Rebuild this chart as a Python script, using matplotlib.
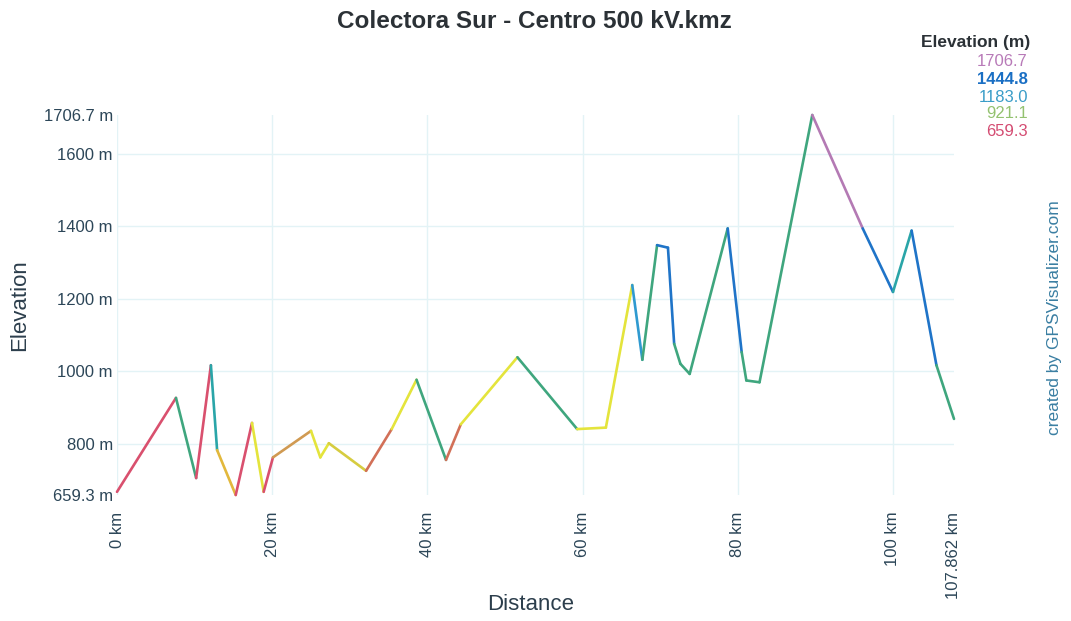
import matplotlib
matplotlib.use("Agg")
import matplotlib.pyplot as plt
from matplotlib.collections import LineCollection
import numpy as np

plt.rcParams['font.family'] = ['Liberation Sans', 'DejaVu Sans']

title = "Colectora Sur - Centro 500 kV.kmz"

dist_km = [0, 7.6, 10.2, 12.1, 12.9, 15.3, 17.4, 18.9, 20.1, 25.0, 26.2, 27.3,
           32.1, 35.4, 38.6, 42.4, 44.3, 51.6, 59.3, 63.0, 66.4, 67.7, 69.6,
           71.0, 71.8, 72.6, 73.8, 78.7, 80.5, 81.1, 82.8, 89.6, 96.1, 100.0,
           102.4, 105.6, 107.862]
elev_m = [668, 927, 706, 1017, 783, 659.3, 858, 668, 763, 836, 763, 802,
          726, 841, 977, 756, 854, 1039, 841, 845, 1238, 1032, 1348,
          1341, 1076, 1021, 993, 1394, 1053, 975, 970, 1706.7, 1394, 1219,
          1388, 1017, 869]

# segment colour classes (one per segment between consecutive points)
seg_class = ['red', 'green', 'red', 'teal', 'amber', 'red', 'yellow', 'red',
             'orange', 'yellow', 'yellow', 'olive', 'redorange', 'yellow',
             'green', 'redorange', 'yellow', 'green', 'yellow', 'yellow',
             'tealblue', 'green', 'blue', 'blue', 'green', 'green', 'green',
             'blue', 'green', 'green', 'green', 'purple', 'blue', 'teal',
             'blue', 'green']

legend_values = ["1706.7", "1444.8", "1183.0", "921.1", "659.3"]
legend_colors = ['#b87ab8', '#1a6fc4', '#3a9dc8', '#94c270', '#d44c72']

xticks = [0, 20, 40, 60, 80, 100, 107.862]
xtick_labels = ["0 km", "20 km", "40 km", "60 km", "80 km", "100 km", "107.862 km"]
yticks = [659.3, 800, 1000, 1200, 1400, 1600, 1706.7]
ytick_labels = ["659.3 m", "800 m", "1000 m", "1200 m", "1400 m", "1600 m", "1706.7 m"]

palette = {
    'red': '#d9506e', 'green': '#3fa67e', 'teal': '#2aa5a8', 'amber': '#e2b83c',
    'yellow': '#e4e43c', 'orange': '#d09a52', 'olive': '#d6cc40',
    'redorange': '#d27058', 'tealblue': '#2f9ad0', 'blue': '#1f74c8',
    'purple': '#b47ab4',
}

fig = plt.figure(figsize=(10.71, 6.21), dpi=100)
ax = fig.add_axes([117/1071, 1-495/621, (954-117)/1071, (495-115)/621])

pts = np.column_stack([dist_km, elev_m])
segs = np.stack([pts[:-1], pts[1:]], axis=1)
lc = LineCollection(segs, colors=[palette[c] for c in seg_class], linewidths=1.9,
                    capstyle='round', joinstyle='round', clip_on=False, zorder=3)
ax.add_collection(lc)

ax.set_xlim(0, 107.862)
ax.set_ylim(659.3, 1706.7)

grid_c = '#e3f3f6'
for x in [0, 20, 40, 60, 80, 100]:
    ax.axvline(x, color=grid_c, lw=1.0, zorder=0)
for y in [800, 1000, 1200, 1400, 1600]:
    ax.axhline(y, color=grid_c, lw=1.0, zorder=0)

for s in ax.spines.values():
    s.set_visible(False)

tick_c = '#2c4658'
ax.set_xticks(xticks)
ax.set_xticklabels(xtick_labels, rotation=90, fontsize=12, color=tick_c)
ax.set_yticks(yticks)
ax.set_yticklabels(ytick_labels, fontsize=12, color=tick_c)
ax.tick_params(length=0, pad=3)
ax.tick_params(axis='x', pad=12)

fig.text(531/1071, 1-605/621, "Distance", ha='center', va='center',
         fontsize=16, color='#2c3e4c')
fig.text(20/1071, 1-305/621, "Elevation", ha='center', va='center',
         rotation=90, fontsize=16, color='#2c3e4c')

fig.text(534/1071, 1-22/621, title, ha='center', va='center', fontsize=17.5,
         fontweight='bold', color='#2b3136')

fig.text(1030/1071, 1-42/621, "Elevation (m)", ha='right', va='center',
         fontsize=12.5, fontweight='bold', color='#2b3136')
ys = [62, 80, 97, 114, 131]
for v, c, y in zip(legend_values, legend_colors, ys):
    fig.text(1028/1071, 1-y/621, v, ha='right', va='center', fontsize=12,
             color=c, fontweight='bold' if v == "1444.8" else 'normal')

fig.text(1055/1071, 1-318/621, "created by GPSVisualizer.com", rotation=90,
         ha='center', va='center', fontsize=12.5, color='#3a7ea2')

fig.savefig("out.png", dpi=100)
